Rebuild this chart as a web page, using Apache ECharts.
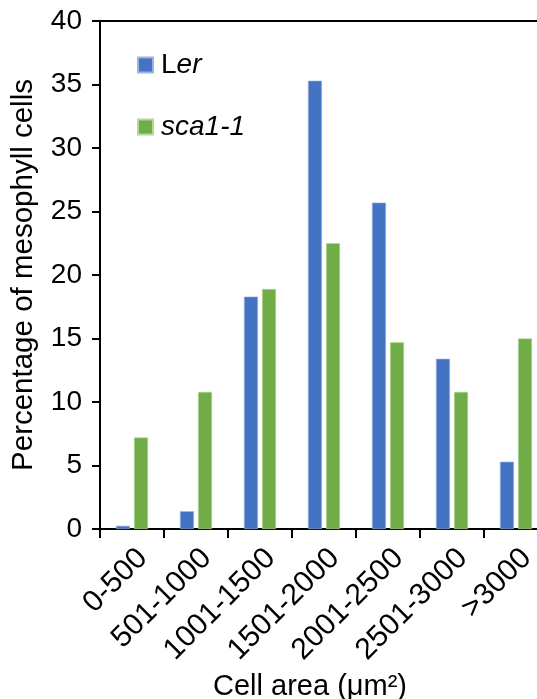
<!DOCTYPE html>
<html>
<head>
<meta charset="utf-8">
<script src="https://cdn.jsdelivr.net/npm/echarts@6/dist/echarts.min.js"></script>
<style>
  html, body { margin: 0; padding: 0; background: #fff; }
  #chart { width: 537px; height: 699px; }
</style>
</head>
<body>
<div id="chart"></div>
<script>
// 细胞面积区间
const categories = ['0-500', '501-1000', '1001-1500', '1501-2000', '2001-2500', '2501-3000', '>3000']
const lerValues = [0.25, 1.4, 18.3, 35.3, 25.7, 13.4, 5.3]
const scaValues = [7.2, 10.8, 18.9, 22.5, 14.7, 10.8, 15.0]
const yTicks = [0, 40, 5]   // min, max, interval

const FONT = "'Liberation Sans', Arial, sans-serif"
const BLUE = '#4472C4'
const GREEN = '#70AD47'

let myChart = echarts.init(document.getElementById('chart'), null, { renderer: 'canvas' })

let option = {
  backgroundColor: '#fff',
  animation: false,
  grid: {
    left: 100,
    right: -11,
    top: 21,
    bottom: 170,
    containLabel: false,
    outerBoundsMode: 'none'
  },
  legend: {
    orient: 'vertical',
    left: 132,
    top: 46,
    itemWidth: 15,
    itemHeight: 15,
    itemGap: 34,
    icon: 'rect',
    data: ['Ler', 'sca1-1'],
    formatter: (name) => {
      if (name === 'Ler') return '{g| }{n|L}{i|er}'
      return '{g| }{i|' + name + '}'
    },
    textStyle: {
      fontFamily: FONT,
      fontSize: 28,
      color: '#000',
      rich: {
        g: { fontSize: 4, width: 3 },
        n: { fontFamily: FONT, fontSize: 28, color: '#000' },
        i: { fontFamily: FONT, fontSize: 28, color: '#000', fontStyle: 'italic' }
      }
    }
  },
  xAxis: [
    {
      type: 'category',
      data: categories,
      position: 'bottom',
      name: 'Cell area (μm²)',
      nameLocation: 'middle',
      nameGap: 139,
      nameTextStyle: {
        fontFamily: FONT,
        fontSize: 29,
        color: '#000',
        padding: [0, 28, 0, 0]
      },
      axisLine: { lineStyle: { color: '#000', width: 2 } },
      axisTick: { show: true, length: 9, lineStyle: { color: '#000', width: 2 } },
      axisLabel: {
        rotate: 45,
        margin: 14,
        verticalAlign: 'top',
        fontFamily: FONT,
        fontSize: 30,
        color: '#000',
        interval: 0
      }
    },
    {
      // 顶部边框线
      type: 'category',
      data: categories,
      position: 'top',
      axisLine: { show: true, lineStyle: { color: '#000', width: 2 } },
      axisTick: { show: false },
      axisLabel: { show: false }
    }
  ],
  yAxis: {
    type: 'value',
    min: yTicks[0],
    max: yTicks[1],
    interval: yTicks[2],
    name: 'Percentage of mesophyll cells',
    nameLocation: 'middle',
    nameGap: 61,
    nameTextStyle: {
      fontFamily: FONT,
      fontSize: 29.5,
      color: '#000'
    },
    splitLine: { show: false },
    axisLine: { show: true, lineStyle: { color: '#000', width: 2 } },
    axisTick: { show: true, length: 8, lineStyle: { color: '#000', width: 2 } },
    axisLabel: {
      margin: 18,
      fontFamily: FONT,
      fontSize: 28,
      color: '#000'
    }
  },
  series: [
    {
      name: 'Ler',
      type: 'bar',
      data: lerValues,
      barWidth: 14,
      barGap: '29%',
      itemStyle: { color: BLUE, borderColor: '#9db4e0', borderWidth: 0.6 }
    },
    {
      name: 'sca1-1',
      type: 'bar',
      data: scaValues,
      barWidth: 14,
      barGap: '29%',
      itemStyle: { color: GREEN, borderColor: '#b5d6a0', borderWidth: 0.6 }
    }
  ]
}

myChart.setOption(option)
</script>
</body>
</html>
